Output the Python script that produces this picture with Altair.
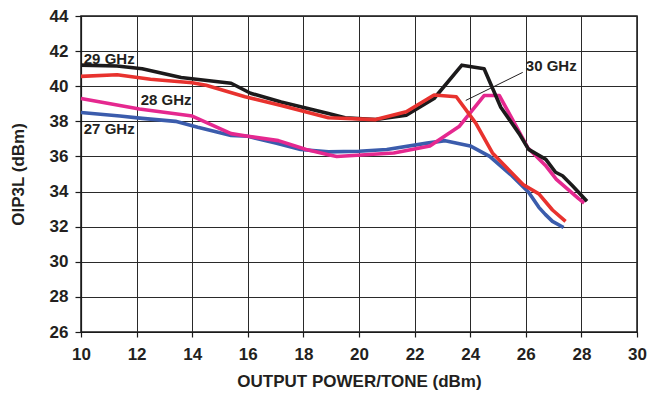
import altair as alt
import pandas as pd

# 27 GHz (blue)
x27 = [10, 11.4, 12.2, 13.4, 14.2, 15.4, 16.0, 17.0, 17.9, 18.9, 20.0, 21.0, 22.45, 23.1, 24.0, 24.7, 25.5, 26.1, 26.47, 26.7, 26.96, 27.36]
y27 = [38.5, 38.3, 38.17, 38.0, 37.66, 37.2, 37.15, 36.76, 36.4, 36.26, 36.3, 36.4, 36.76, 36.9, 36.6, 36.0, 34.9, 33.96, 33.1, 32.7, 32.3, 31.95]
# 28 GHz (magenta)
x28 = [10, 12.1, 14.0, 15.4, 16.0, 17.1, 18.1, 18.9, 19.2, 21.25, 22.55, 23.6, 24.5, 25.05, 26.07, 26.7, 27.1, 27.9, 28.1]
y28 = [39.3, 38.7, 38.3, 37.3, 37.15, 36.9, 36.4, 36.1, 36.0, 36.2, 36.6, 37.7, 39.47, 39.47, 36.5, 35.5, 34.7, 33.6, 33.35]
# 29 GHz (black)
x29 = [10, 11.3, 12.2, 13.6, 15.4, 16.1, 17.2, 18.9, 19.5, 20.6, 21.7, 22.7, 23.7, 24.5, 25.1, 25.76, 26.1, 26.72, 27.07, 27.32, 27.67, 28.2]
y29 = [41.2, 41.15, 41.0, 40.5, 40.17, 39.6, 39.1, 38.45, 38.2, 38.1, 38.35, 39.3, 41.2, 41.0, 38.8, 37.3, 36.4, 35.83, 35.1, 34.9, 34.35, 33.45]
# 30 GHz (red)
x30 = [10, 11.3, 12.5, 14.0, 14.5, 15.9, 17.2, 18.9, 20.6, 21.7, 22.7, 23.5, 24.2, 24.8, 25.9, 26.47, 26.96, 27.43]
y30 = [40.56, 40.65, 40.4, 40.2, 40.05, 39.4, 38.9, 38.2, 38.1, 38.55, 39.5, 39.4, 37.9, 36.2, 34.4, 33.87, 32.95, 32.3]

series = ["27 GHz", "28 GHz", "29 GHz", "30 GHz"]
colors = ["#3b5cac", "#e5288f", "#1c1a1b", "#e8322e"]

x_ticks = list(range(10, 31, 2))
y_ticks = list(range(26, 45, 2))

# inline label positions (data coordinates)
label_text = ["29 GHz", "28 GHz", "27 GHz", "30 GHz"]
label_x = [10.1, 12.15, 10.1, 26.0]
label_y = [41.55, 39.2, 37.55, 41.15]

# leader line for 30 GHz
lead_x = [25.89]
lead_y = [40.79]
lead_x2 = [23.84]
lead_y2 = [39.19]

rows = []
for name, xs_, ys_ in zip(series, [x27, x28, x29, x30], [y27, y28, y29, y30]):
    for i, (a, b) in enumerate(zip(xs_, ys_)):
        rows.append({"series": name, "x": a, "y": b, "i": i})
df = pd.DataFrame(rows)

font = "Liberation Sans"
tc = "#231f20"

xs = alt.Scale(domain=[10, 30], nice=False, zero=False)
ys = alt.Scale(domain=[26, 44], nice=False, zero=False)

xaxis = alt.Axis(values=x_ticks, title="OUTPUT POWER/TONE (dBm)", format="d",
                 tickSize=5, labelPadding=9, titlePadding=11,
                 labelOverlap=False, labelFlush=False, grid=True)
yaxis = alt.Axis(values=y_ticks, title="OIP3L (dBm)", format="d",
                 tickSize=6, labelPadding=7, titlePadding=22,
                 labelOverlap=False, labelFlush=False, grid=True)

X = alt.X("x:Q", scale=xs, axis=xaxis)
Y = alt.Y("y:Q", scale=ys, axis=yaxis)

lines = alt.Chart(df).mark_line(strokeWidth=3.6, strokeJoin="round").encode(
    x=X, y=Y,
    color=alt.Color("series:N", scale=alt.Scale(domain=series, range=colors), legend=None),
    order="i:Q",
)

labels = alt.Chart(pd.DataFrame({"t": label_text, "x": label_x, "y": label_y})).mark_text(
    align="left", baseline="middle", font=font, fontWeight="bold", fontSize=15, color=tc
).encode(x=X, y=Y, text="t:N")

lead = alt.Chart(pd.DataFrame({"x": lead_x, "y": lead_y, "x2": lead_x2, "y2": lead_y2})).mark_rule(
    color=tc, strokeWidth=1
).encode(x=X, y=Y, x2="x2:Q", y2="y2:Q")

chart = alt.layer(lines, lead, labels).properties(
    width=556, height=316,
    autosize=alt.AutoSizeParams(type="none"),
    padding={"left": 73, "top": 8, "right": 10, "bottom": 62},
    background="white",
).configure_axis(
    gridColor="#2a2a2a", gridWidth=1, gridOpacity=1,
    domainColor="#1a1a1a", domainWidth=1.2, tickColor="#1a1a1a", tickWidth=1.2,
    labelFont=font, labelFontWeight="bold", labelFontSize=17, labelColor=tc,
    titleFont=font, titleFontWeight="bold", titleFontSize=17, titleColor=tc,
).configure_view(stroke="#1a1a1a", strokeWidth=1.5)

chart.save("out.html", embed_options={"renderer": "svg", "actions": False})
